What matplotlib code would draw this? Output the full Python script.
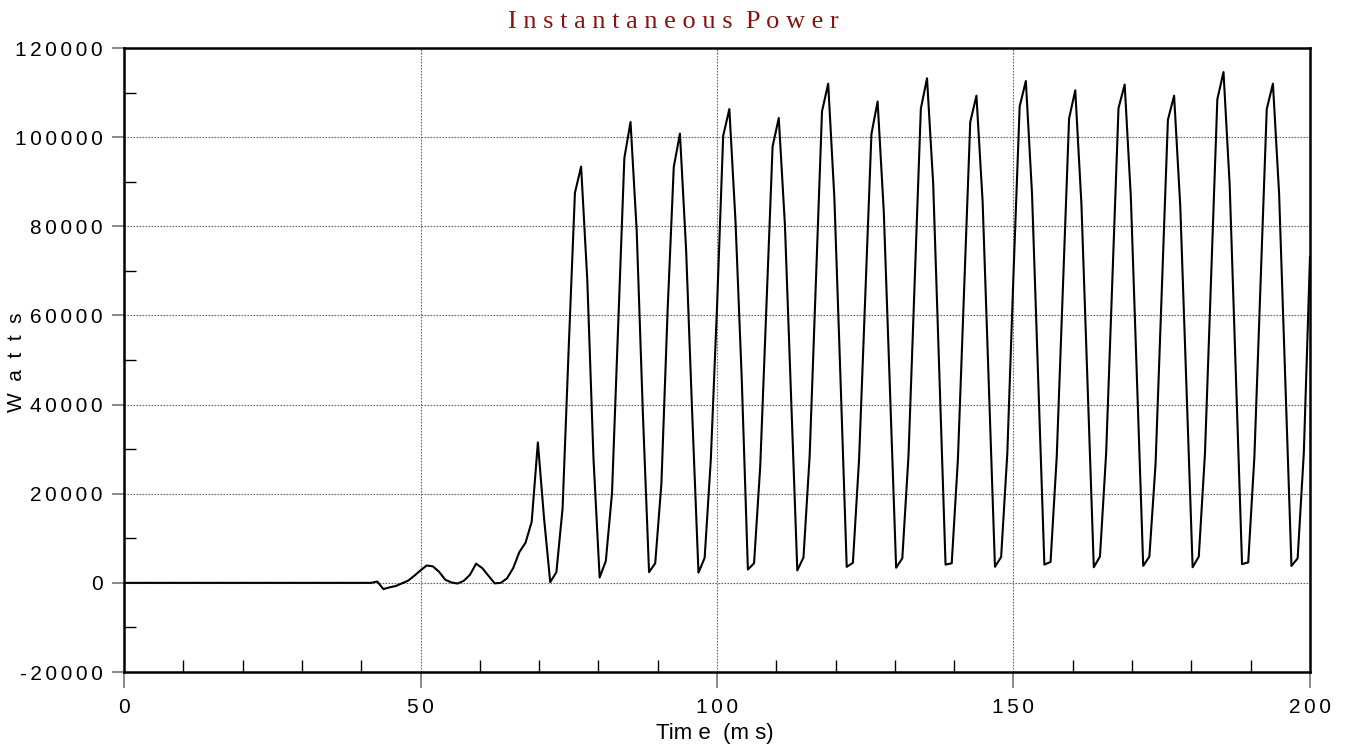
import numpy as np
import matplotlib
matplotlib.use("Agg")
import matplotlib.pyplot as plt
from matplotlib.ticker import MultipleLocator, FixedLocator, FuncFormatter

plt.rcParams["font.family"] = ["Liberation Sans", "DejaVu Sans"]

# -----------------------------------------------------------------------------
# Data: instantaneous power, sampled at 960 Hz (read off the reference trace)
# -----------------------------------------------------------------------------
sample_rate_hz = 960

power_w = [0] * 41 + [
    300, -1400, -1000, -700, -100, 500, 1600, 2800, 3900, 3700,
    2500, 700, 100, -150, 450, 1800, 4300, 3300, 1600, -100,
    0, 1000, 3300, 6900, 9000, 13700, 31500, 14500, 150, 2400,
    16700, 53000, 87500, 93400, 68000, 28000, 1200, 4900, 20100, 58000,
    95300, 103400, 79000, 38000, 2400, 4400, 22300, 61000, 93300, 100800,
    74700, 37400, 2300, 5600, 27700, 61800, 100300, 106300, 81000, 46000,
    3000, 4400, 26200, 62100, 97900, 104300, 80200, 41600, 2800, 5700,
    28500, 67100, 105800, 112000, 86400, 45500, 3600, 4500, 27700, 64000,
    100700, 108000, 83300, 43100, 3400, 5500, 28500, 67500, 106400, 113200,
    89500, 47000, 4100, 4400, 27700, 65500, 103400, 109300, 85600, 44700,
    3600, 5800, 29100, 69300, 106900, 112600, 87300, 45600, 4100, 4700,
    28300, 66200, 104200, 110500, 84900, 44200, 3500, 5900, 29100, 67800,
    106500, 111800, 86500, 45100, 3800, 5900, 26700, 65300, 103900, 109300,
    84500, 44000, 3500, 5900, 29100, 68800, 108500, 114600, 89200, 46700,
    4200, 4600, 28300, 67300, 106300, 112000, 87300, 45500, 3800, 5500,
    29100, 73100,
]

t_ms = np.arange(len(power_w)) * 1000.0 / sample_rate_hz

x_ticks = [0, 50, 100, 150, 200]
y_ticks = [-20000, 0, 20000, 40000, 60000, 80000, 100000, 120000]

title = "I n s t a n t a n e o u s  P o w e r"
x_label = "Tim e  (m s)"
y_label = "W  a  t  t  s"

GAP = "\u2006"  # six-per-em space: the original prints digits with a small gap


def spaced(v, pos=None):
    return GAP.join(str(int(round(v))))


# -----------------------------------------------------------------------------
# Plot
# -----------------------------------------------------------------------------
fig = plt.figure(figsize=(13.48, 7.48), dpi=100)
ax = fig.add_axes([0.0920, 0.1016, 0.8798, 0.8342])

ax.plot(t_ms, power_w, color="black", linewidth=1.5)

ax.set_xlim(0, 200)
ax.set_ylim(-20000, 120000)

ax.xaxis.set_major_locator(FixedLocator(x_ticks))
ax.yaxis.set_major_locator(FixedLocator(y_ticks))
ax.xaxis.set_minor_locator(MultipleLocator(10))
ax.yaxis.set_minor_locator(MultipleLocator(10000))
ax.xaxis.set_major_formatter(FuncFormatter(spaced))
ax.yaxis.set_major_formatter(FuncFormatter(spaced))

ax.grid(which="major", color="#666666", linestyle=(0, (1.5, 1.2)), linewidth=0.8)

ax.tick_params(axis="x", which="major", direction="out", length=11.5, width=1.2,
               color="#777777", pad=7, labelsize=15)
ax.tick_params(axis="x", which="minor", direction="in", length=8.5, width=1.0,
               color="black")
ax.tick_params(axis="y", which="major", direction="out", length=8.5, width=1.2,
               color="#777777", pad=7, labelsize=15)
ax.tick_params(axis="y", which="minor", direction="in", length=8.5, width=1.0,
               color="black")

for side in ["top", "bottom", "left", "right"]:
    ax.spines[side].set_linewidth(1.8)
    ax.spines[side].set_color("black")

fig.text(673 / 1348, 1 - 22 / 748, title, ha="center", va="center",
         color="#8B1010", fontsize=19, family="Liberation Serif")
fig.text(715 / 1348, 1 - 733 / 748, x_label, ha="center", va="center",
         fontsize=16)
fig.text(17 / 1348, 1 - 362 / 748, y_label, ha="center", va="center",
         rotation=90, fontsize=15)

plt.savefig("out.png", dpi=100)
plt.close()
